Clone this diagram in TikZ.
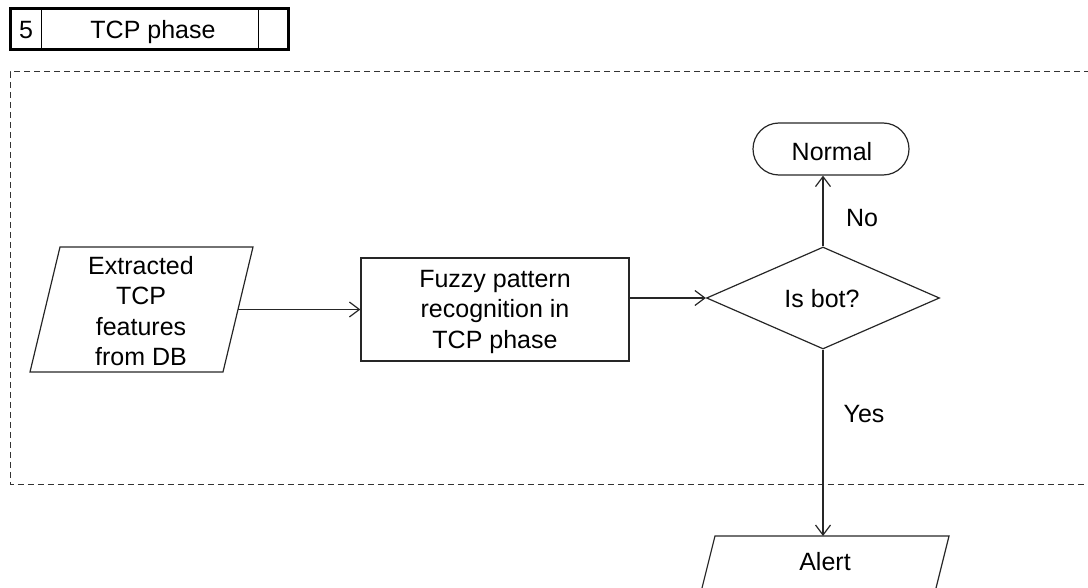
\documentclass[tikz,border=0pt]{standalone}
\usepackage{fontspec}
\setmainfont{Liberation Sans}
\usetikzlibrary{arrows.meta,shapes.geometric,shapes.misc}
\begin{document}
\begin{tikzpicture}[x=1pt,y=-1pt,
  every node/.style={font=\fontsize{25}{30.5}\selectfont, inner sep=0pt},
  outline/.style={line width=1.2pt, draw=black!85},
  conn/.style={outline, -{Straight Barb[length=10pt,width=15pt]}},
  frame/.style={line width=1pt, draw=black!80, dash pattern=on 6pt off 4pt},
]
\useasboundingbox (0,0) rectangle (1088,588);

% phase header
\draw[line width=3pt] (10,9) rectangle (288,50);
\draw[line width=1pt] (41,9) -- (41,50) (258,9) -- (258,50);
\node[anchor=base] (hnum) at (26,39) {5};
\node[anchor=base] (htitle) at (153,39) {TCP phase};

% dashed phase region (runs off the right edge)
\draw[frame] (1110,72) -- (10,72) -- (10,484) -- (1110,484);

% input data
\draw[outline] (60,247) -- (253,247) -- (223,372) -- (30,372) -- cycle;
\node[align=center] (src) at (141,311) {Extracted\\TCP\\features\\from DB};
\coordinate (srcout) at (238,309.5);

% processing step
\node[outline, minimum width=268pt, minimum height=103pt] (fuzzy) at (495,309.5) {};
\node[align=center] (fuzzytext) at (495,311.5) {Fuzzy pattern\\recognition in\\TCP phase};

% decision
\node[outline, diamond, minimum width=233pt, minimum height=102pt]
  (isbot) at (823,298) {};
\node (isbottext) at (822,299) {Is bot?};

% terminal
\node[outline, rounded rectangle, minimum width=156pt, minimum height=52pt]
  (normal) at (831,149) {};
\node (normaltext) at (832,152) {Normal};

% output
\draw[outline] (715,536) -- (949,536) -- (935.5,590) -- (701.5,590) -- cycle;
\node (alert) at (825,562) {Alert};
\coordinate (alerttop) at (823,536);

% connectors
\draw[conn] (srcout) -- (fuzzy.west);
\draw[conn] (fuzzy.east |- isbot.west) -- (isbot.west);
\draw[conn] (isbot.north) -- (isbot.north |- normal.south);
\draw[conn] (isbot.south) -- (isbot.south |- alerttop);

% branch labels
\node (no) at (862,218) {No};
\node (yes) at (864,414) {Yes};
\end{tikzpicture}
\end{document}
